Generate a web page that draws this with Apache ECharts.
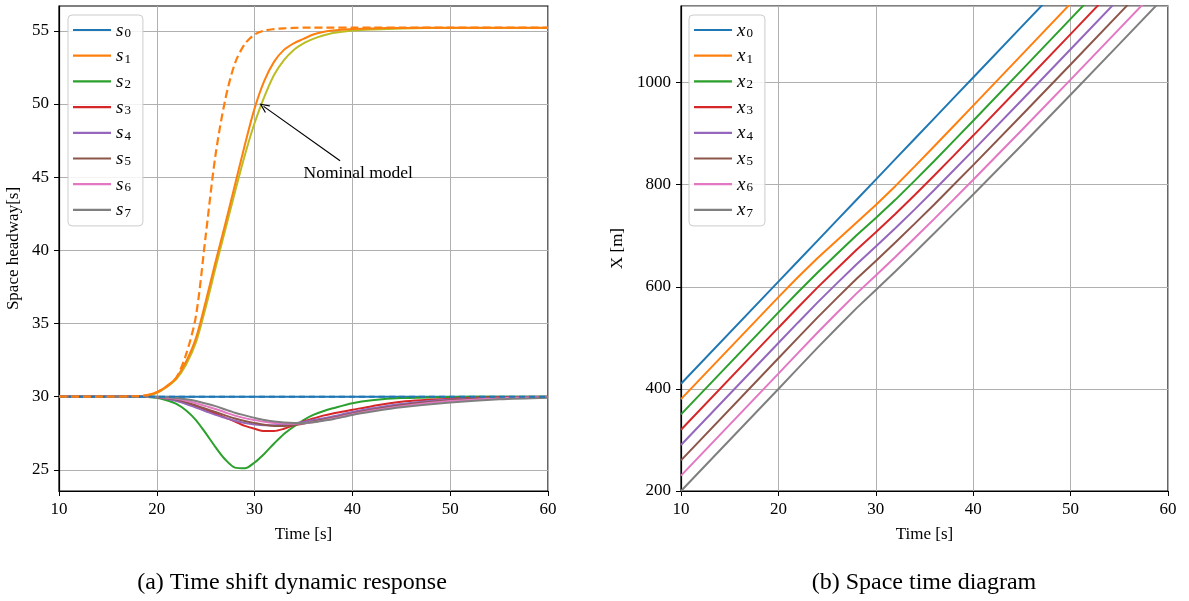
<!DOCTYPE html>
<html>
<head>
<meta charset="utf-8">
<script src="https://cdn.jsdelivr.net/npm/echarts@6/dist/echarts.min.js"></script>
<style>
html,body{margin:0;padding:0;background:#fff;}
#main{width:1189px;height:601px;}
</style>
</head>
<body>
<div id="main"></div>
<script>
// ---------- Left panel: space headway (time samples) ----------
const tS = [10, 15, 18, 19, 20, 21, 22, 23, 24, 25, 26, 27, 28, 29, 30, 31, 32, 33, 34, 35, 36, 37, 38, 40, 42, 45, 50, 55, 60];
const s0 = [30, 30, 30, 30, 30, 30, 30, 30, 30, 30, 30, 30, 30, 30, 30, 30, 30, 30, 30, 30, 30, 30, 30, 30, 30, 30, 30, 30, 30];
const s1 = [30, 30, 30.03, 30.1, 30.3, 30.7, 31.3, 32.4, 34.0, 36.5, 39.2, 41.8, 44.5, 47.2, 49.7, 51.6, 52.9, 53.7, 54.15, 54.45, 54.75, 54.92, 55.02, 55.12, 55.17, 55.2, 55.22, 55.22, 55.22];
const s2 = [30, 30, 30, 29.98, 29.92, 29.75, 29.5, 29.05, 28.4, 27.5, 26.55, 25.7, 25.15, 25.1, 25.5, 26.1, 26.8, 27.45, 27.95, 28.4, 28.75, 29.0, 29.2, 29.55, 29.75, 29.9, 29.97, 30, 30];
const s3 = [30, 30, 30, 29.99, 29.95, 29.87, 29.75, 29.57, 29.35, 29.1, 28.85, 28.57, 28.3, 28.0, 27.8, 27.65, 27.65, 27.8, 28.05, 28.3, 28.5, 28.7, 28.85, 29.1, 29.35, 29.65, 29.85, 29.95, 30];
const s4 = [30, 30, 30, 29.99, 29.95, 29.85, 29.7, 29.5, 29.25, 29.0, 28.75, 28.55, 28.35, 28.2, 28.1, 28.05, 28.05, 28.08, 28.15, 28.27, 28.4, 28.52, 28.65, 28.95, 29.2, 29.5, 29.8, 29.93, 29.98];
const s5 = [30, 30, 30, 30, 29.97, 29.9, 29.8, 29.62, 29.4, 29.17, 28.95, 28.72, 28.5, 28.33, 28.2, 28.08, 28.0, 28.0, 28.05, 28.15, 28.3, 28.42, 28.55, 28.85, 29.1, 29.42, 29.75, 29.9, 29.97];
const s6 = [30, 30, 30, 30, 29.98, 29.93, 29.85, 29.72, 29.55, 29.35, 29.15, 28.92, 28.7, 28.53, 28.4, 28.28, 28.2, 28.16, 28.15, 28.18, 28.25, 28.37, 28.5, 28.8, 29.05, 29.35, 29.7, 29.88, 29.95];
const s7 = [30, 30, 30, 30, 29.99, 29.96, 29.9, 29.82, 29.7, 29.53, 29.35, 29.12, 28.9, 28.72, 28.55, 28.4, 28.3, 28.23, 28.2, 28.2, 28.25, 28.35, 28.45, 28.75, 28.98, 29.27, 29.6, 29.82, 29.93];
const sOlive = [30, 30, 30.03, 30.08, 30.25, 30.65, 31.2, 32.2, 33.7, 36.1, 38.8, 41.4, 44.0, 46.5, 48.7, 50.5, 52.0, 53.0, 53.7, 54.15, 54.45, 54.68, 54.85, 55.02, 55.1, 55.17, 55.2, 55.2, 55.2];
const s1Nominal = [30, 30, 30.03, 30.1, 30.3, 30.7, 31.3, 32.9, 35.5, 41.0, 46.5, 50.3, 52.8, 54.1, 54.75, 55.02, 55.12, 55.17, 55.2, 55.22, 55.22, 55.22, 55.22, 55.22, 55.22, 55.22, 55.22, 55.22, 55.22];
const s0Nominal = [30, 30, 30, 30, 30, 30, 30, 30, 30, 30, 30, 30, 30, 30, 30, 30, 30, 30, 30, 30, 30, 30, 30, 30, 30, 30, 30, 30, 30];

// ---------- Right panel: space-time diagram ----------
const tX = [10, 20, 22, 24, 26, 28, 30, 32, 34, 36, 38, 40, 45, 50, 55, 60];
const x0 = [410, 610, 650, 690, 730, 770, 810, 850, 890, 930, 970, 1010, 1110, 1210, 1310, 1410];
const x1 = [380, 579.7, 618.7, 656.0, 690.8, 725.5, 760.3, 797.1, 835.9, 875.3, 915.0, 954.9, 1054.8, 1154.8, 1254.8, 1354.8];
const x2 = [350, 549.8, 589.2, 627.6, 664.3, 700.4, 734.8, 770.3, 807.9, 846.5, 885.8, 925.3, 1024.9, 1124.8, 1224.8, 1324.8];
const x3 = [320, 519.9, 559.4, 598.3, 635.4, 672.1, 707.0, 742.7, 779.9, 818.0, 857.0, 896.2, 995.3, 1095.0, 1194.9, 1294.8];
const x4 = [290, 489.9, 529.7, 569.0, 606.7, 643.8, 678.9, 714.6, 751.7, 789.6, 828.3, 867.3, 965.8, 1065.2, 1164.9, 1264.8];
const x5 = [260, 459.9, 499.9, 539.6, 577.8, 615.3, 650.7, 686.6, 723.7, 761.3, 799.8, 838.4, 936.4, 1035.4, 1135.0, 1234.8];
const x6 = [230, 429.9, 470.1, 510.1, 548.6, 586.6, 622.3, 658.4, 695.5, 733.1, 771.3, 809.6, 907.0, 1005.7, 1105.1, 1204.9];
const x7 = [200, 399.9, 440.2, 480.4, 519.3, 557.7, 593.7, 630.1, 667.3, 704.8, 742.8, 780.9, 877.7, 976.1, 1075.3, 1175.0];

const yTicksLeft = [25, 30, 35, 40, 45, 50, 55];
const colors = ['#1f77b4', '#ff7f0e', '#2ca02c', '#d62728', '#9467bd', '#8c564b', '#e377c2', '#7f7f7f'];
const oliveColor = '#bcbd22';
const sNames = ['s0', 's1', 's2', 's3', 's4', 's5', 's6', 's7'];
const xNames = ['x0', 'x1', 'x2', 'x3', 'x4', 'x5', 'x6', 'x7'];
const sData = [s0, s1, s2, s3, s4, s5, s6, s7];
const xData = [x0, x1, x2, x3, x4, x5, x6, x7];

const FONT = '"Liberation Serif", "DejaVu Serif", serif';
const pairs = (t, v) => t.map((tt, i) => [tt, v[i]]);

function lineSeries(name, t, v, color, xi, extra) {
  return Object.assign({
    name: name, type: 'line', xAxisIndex: xi, yAxisIndex: xi,
    data: pairs(t, v), symbol: 'none', showSymbol: false,
    smooth: 0.3,
    lineStyle: { color: color, width: 2 }, itemStyle: { color: color },
    clip: true, z: 3
  }, extra || {});
}

const series = [];
sData.forEach((v, i) => series.push(lineSeries(sNames[i], tS, v, colors[i], 0)));
series.push(lineSeries('olive', tS, sOlive, oliveColor, 0, {
  z: 2,
  markLine: {
    silent: true, animation: false,
    symbol: ['none', 'path://M0,10 L5,0 L10,10 L8.6,10 L5,2.8 L1.4,10 Z'],
    symbolSize: [9, 10],
    lineStyle: { color: '#000', width: 1.2, type: 'solid' },
    label: { show: false },
    data: [[{ coord: [38.74, 46.12] }, { coord: [30.92, 49.84] }]]
  },
  markPoint: {
    silent: true, animation: false,
    symbol: 'circle', symbolSize: 0,
    label: { show: true, position: 'inside', formatter: 'Nominal model', color: '#000', fontFamily: FONT, fontSize: 17.5 },
    data: [{ coord: [40.6, 45.25] }]
  }
}));
series.push(lineSeries('s0 nominal', tS, s0Nominal, colors[0], 0, { lineStyle: { color: colors[0], width: 2, type: [6, 4] }, z: 4 }));
series.push(lineSeries('s1 nominal', tS, s1Nominal, colors[1], 0, { lineStyle: { color: colors[1], width: 2.2, type: [8, 4] }, z: 5 }));
xData.forEach((v, i) => series.push(lineSeries(xNames[i], tX, v, colors[i], 1, { smooth: false })));

const legendText = {
  fontFamily: FONT, fontSize: 17, color: '#000',
  rich: {
    i: { fontFamily: FONT, fontStyle: 'italic', fontSize: 19, color: '#000', verticalAlign: 'bottom', lineHeight: 20 },
    b: { fontFamily: FONT, fontSize: 13, color: '#000', verticalAlign: 'bottom', lineHeight: 13, padding: [0, 0, 0, 1] }
  }
};
function legendCfg(names, left) {
  return {
    data: names, orient: 'vertical', left: left, top: 15,
    icon: 'rect', itemWidth: 38, itemHeight: 2.2, itemGap: 6.7,
    padding: [6, 12, 6, 5],
    backgroundColor: 'rgba(255,255,255,0.85)', borderColor: '#cccccc', borderWidth: 1, borderRadius: 4,
    textStyle: legendText,
    formatter: n => '{i|' + n[0] + '}{b|' + n.slice(1) + '}',
    selectedMode: false
  };
}

const axisLabelStyle = { color: '#000', fontFamily: FONT, fontSize: 17 };
const nameStyle = { color: '#000', fontFamily: FONT, fontSize: 17 };
const splitLine = { show: true, lineStyle: { color: '#b0b0b0', width: 1 } };
const axisLine = { show: true, onZero: false, lineStyle: { color: '#000', width: 1.2 } };
const axisTick = { show: true, inside: false, length: 5, lineStyle: { color: '#000', width: 1 } };

const option = {
  animation: false,
  backgroundColor: '#fff',
  grid: [
    { left: 59, right: 641, top: 6, bottom: 110, show: true, borderColor: '#000', borderWidth: 1.2, backgroundColor: 'transparent', containLabel: false },
    { left: 681, right: 21, top: 6, bottom: 110, show: true, borderColor: '#000', borderWidth: 1.2, backgroundColor: 'transparent', containLabel: false }
  ],
  legend: [legendCfg(sNames, 68), legendCfg(xNames, 689)],
  xAxis: [
    { type: 'value', gridIndex: 0, min: 10, max: 60, interval: 10, name: 'Time [s]', nameLocation: 'middle', nameGap: 35, nameTextStyle: nameStyle,
      axisLine: axisLine, axisTick: axisTick, axisLabel: Object.assign({ margin: 10 }, axisLabelStyle), splitLine: splitLine },
    { type: 'value', gridIndex: 1, min: 10, max: 60, interval: 10, name: 'Time [s]', nameLocation: 'middle', nameGap: 35, nameTextStyle: nameStyle,
      axisLine: axisLine, axisTick: axisTick, axisLabel: Object.assign({ margin: 10 }, axisLabelStyle), splitLine: splitLine }
  ],
  yAxis: [
    { type: 'value', gridIndex: 0, min: 23.55, max: 56.7, splitNumber: 7, name: 'Space headway[s]', nameLocation: 'middle', nameGap: 37, nameTextStyle: nameStyle,
      axisLine: axisLine, axisTick: Object.assign({ customValues: yTicksLeft }, axisTick),
      axisLabel: Object.assign({ margin: 10, customValues: yTicksLeft, formatter: v => String(v) }, axisLabelStyle), splitLine: splitLine },
    { type: 'value', gridIndex: 1, min: 200, max: 1150, interval: 200, name: 'X [m]', nameLocation: 'middle', nameGap: 55, nameTextStyle: nameStyle,
      axisLine: axisLine, axisTick: axisTick, axisLabel: Object.assign({ margin: 10, showMaxLabel: false, formatter: v => String(v) }, axisLabelStyle), splitLine: splitLine }
  ],
  graphic: [
    { type: 'text', style: { text: '(a) Time shift dynamic response', font: '24px "Liberation Serif", serif', fill: '#000', x: 292, y: 583, align: 'center', verticalAlign: 'middle' } },
    { type: 'text', style: { text: '(b) Space time diagram', font: '24px "Liberation Serif", serif', fill: '#000', x: 924, y: 583, align: 'center', verticalAlign: 'middle' } }
  ],
  series: series
};

const chart = echarts.init(document.getElementById('main'), null, { renderer: 'canvas' });
chart.setOption(option);
</script>
</body>
</html>
